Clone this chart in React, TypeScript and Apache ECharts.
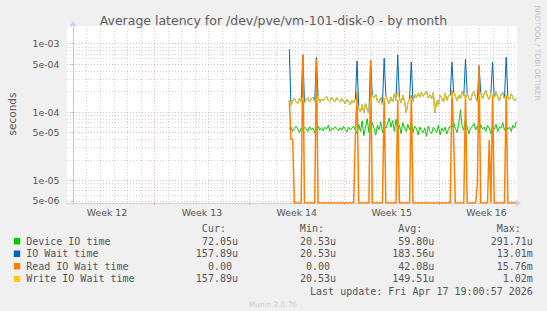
import React, { useEffect, useRef } from "react";
import * as echarts from "echarts";

const TITLE = "Average latency for /dev/pve/vm-101-disk-0 - by month";
const Y_NAME = "seconds";
const weekLabels = ["Week 12", "Week 13", "Week 14", "Week 15", "Week 16"];
const weekLabelPos = [2.5, 9.5, 16.5, 23.5, 30.5];
const weekStarts = [6, 13, 20, 27];
const dayLines = [0, 1, 2, 3, 4, 5, 7, 8, 9, 10, 11, 12, 14, 15, 16, 17, 18, 19, 21, 22, 23, 24, 25, 26, 28, 29, 30, 31, 32];
const yTickValues = [5e-6, 1e-5, 5e-5, 1e-4, 5e-4, 1e-3];
const yTickLabels = ["5e-06", "1e-05", "5e-05", "1e-04", "5e-04", "1e-03"];
const yMinorValues = [6e-6, 7e-6, 8e-6, 9e-6, 2e-5, 3e-5, 4e-5, 6e-5, 7e-5, 8e-5, 9e-5, 2e-4, 3e-4, 4e-4, 6e-4, 7e-4, 8e-4, 9e-4];

const X_MIN = -0.45;
const X_MAX = 32.75;
const Y_MIN = -5.332;
const Y_MAX = -2.741;
const DATA_START = 15.95; // days
const STEP = 0.125; // 3 hours

// values in microseconds
const deviceIO = [
  55, 60, 52, 58, 62, 56, 50, 58, 54, 60,
  57, 52, 61, 55, 58, 50, 56, 62, 54, 59,
  53, 60, 56, 64, 52, 58, 55, 61, 57, 53,
  59, 54, 62, 56, 51, 60, 55, 58, 62, 54,
  48, 66, 52, 74, 45, 60, 80, 50, 56, 70,
  58, 46, 64, 55, 72, 50, 62, 58, 68, 82,
  60, 75, 52, 78, 56, 64, 48, 70, 58, 52,
  66, 55, 72, 50, 62, 58, 46, 60, 54, 50,
  58, 44, 62, 52, 48, 60, 55, 50, 64, 46,
  58, 52, 60, 48, 56, 62, 60, 70, 58, 50,
  66, 108, 62, 54, 80, 60, 48, 58, 62, 68,
  55, 62, 50, 66, 56, 60, 52, 64, 58, 48,
  62, 56, 66, 52, 60, 58, 70, 54, 62, 56,
  60, 52, 64, 58, 72,
];
const ioWait = [
  828, 125, 145, 160, 140, 132, 158, 140, 690, 135,
  152, 162, 140, 155, 165, 142, 633, 170, 138, 155,
  145, 160, 168, 148, 140, 165, 150, 142, 162, 148,
  140, 158, 145, 132, 155, 140, 128, 150, 135, 152,
  560, 112, 100, 128, 98, 135, 108, 96, 576, 175,
  162, 182, 145, 135, 165, 128, 611, 172, 150, 132,
  165, 140, 185, 148, 684, 158, 135, 175, 145, 98,
  135, 155, 540, 140, 182, 162, 190, 165, 195, 170,
  185, 200, 162, 180, 155, 192, 98, 150, 125, 178,
  160, 140, 188, 148, 172, 178, 540, 195, 172, 145,
  178, 155, 198, 172, 597, 185, 160, 145, 182, 198,
  162, 142, 480, 192, 155, 185, 205, 168, 152, 190,
  540, 160, 198, 168, 145, 180, 192, 155, 633, 170,
  150, 185, 162, 145, 158,
];
const readWait = [
  150, 40, 40, 0, 0, 0, 0, 0, 690, 0,
  0, 0, 0, 0, 0, 0, 600, 0, 0, 0,
  0, 0, 0, 0, 0, 0, 0, 0, 0, 0,
  0, 0, 0, 0, 0, 0, 0, 0, 0, 45,
  200, 0, 0, 0, 0, 0, 0, 0, 576, 0,
  0, 0, 0, 0, 0, 0, 160, 0, 0, 0,
  0, 0, 0, 0, 150, 0, 0, 0, 0, 0,
  0, 0, 177, 0, 0, 0, 0, 0, 0, 0,
  0, 0, 0, 0, 0, 0, 0, 0, 0, 0,
  0, 0, 0, 0, 0, 0, 210, 43, 0, 0,
  0, 0, 0, 0, 180, 0, 0, 0, 0, 0,
  0, 9, 476, 0, 0, 0, 0, 0, 39, 0,
  180, 0, 0, 0, 0, 0, 0, 0, 180, 0,
  0, 0, 0, 0, 0,
];
const writeWait = [
  150, 125, 145, 160, 140, 132, 158, 140, 165, 135,
  152, 162, 140, 155, 165, 142, 150, 170, 138, 155,
  145, 160, 168, 148, 140, 165, 150, 142, 162, 148,
  140, 158, 145, 132, 155, 140, 128, 150, 135, 152,
  135, 112, 100, 128, 98, 135, 108, 96, 150, 175,
  162, 182, 145, 135, 165, 128, 148, 172, 150, 132,
  165, 140, 185, 148, 195, 158, 135, 175, 145, 98,
  135, 155, 160, 140, 182, 162, 190, 165, 195, 170,
  185, 200, 162, 180, 155, 192, 98, 150, 125, 178,
  160, 140, 188, 148, 172, 178, 160, 195, 172, 145,
  178, 155, 198, 172, 155, 185, 160, 145, 182, 198,
  162, 142, 170, 192, 155, 185, 205, 168, 152, 190,
  175, 160, 198, 168, 145, 180, 192, 155, 180, 170,
  150, 185, 162, 145, 158,
];

const legendNames = ["Device IO time", "IO Wait time", "Read IO Wait time", "Write IO Wait time"];
const legendColors = ["#00cc00", "#0066b3", "#ff8000", "#ffcc00"];
const legendHeaders = ["Cur:", "Min:", "Avg:", "Max:"];
const curVals = ["72.05u", "157.89u", "0.00", "157.89u"];
const minVals = ["20.53u", "20.53u", "0.00", "20.53u"];
const avgVals = ["59.80u", "183.56u", "42.08u", "149.51u"];
const maxVals = ["291.71u", "13.01m", "15.76m", "1.02m"];
const LAST_UPDATE = "Last update: Fri Apr 17 19:00:57 2026";
const MUNIN = "Munin 2.0.76";
const RRD = "RRDTOOL / TOBI OETIKER";

const toLog = (v: number) => (v > 0 ? Math.log10(v * 1e-6) : Y_MIN);
const toSeries = (arr: number[]) => arr.map((v, i) => [DATA_START + i * STEP, toLog(v)]);

const MONO = "DejaVu Sans Mono";
const SANS = "DejaVu Sans";
const TXT = "#555555";
const AXIS = "#cad1f0";
const MINOR = "rgba(150,150,150,0.42)";
const MAJOR = "rgba(235,90,90,0.45)";

export default function App() {
  const ref = useRef<HTMLDivElement>(null);
  useEffect(() => {
    document.body.style.margin = "0";
    document.body.style.background = "#f0f0f0";
    const chart = echarts.init(ref.current!, null, { renderer: "svg" });

    const gridLines: any[] = [];
    dayLines.forEach((d) => gridLines.push({ xAxis: d, lineStyle: { color: MINOR, type: [1, 2], width: 1 } }));
    yMinorValues.forEach((v) => gridLines.push({ yAxis: Math.log10(v), lineStyle: { color: MINOR, type: [1, 2], width: 1 } }));
    weekStarts.forEach((d) => gridLines.push({ xAxis: d, lineStyle: { color: MAJOR, type: [1, 2], width: 1 } }));
    yTickValues.forEach((v) => gridLines.push({ yAxis: Math.log10(v), lineStyle: { color: MAJOR, type: [1, 2], width: 1 } }));

    const colEnds = [238, 336, 434.4, 532.8];
    const CH = 6.02;
    const cols = [curVals, minVals, avgVals, maxVals];
    const rowY = [241.2, 253.7, 266.3, 278.9];
    const graphics: any[] = [
      { type: "text", style: { text: TITLE, x: 273.4, y: 20.2, textAlign: "center", textVerticalAlign: "middle", align: "center", verticalAlign: "middle", font: `12.5px '${SANS}'`, fill: "#5e5e5e" } },
      { type: "text", x: 11.7, y: 114, rotation: Math.PI / 2, style: { text: Y_NAME, x: 0, y: 0, textAlign: "center", textVerticalAlign: "middle", align: "center", verticalAlign: "middle", font: `10.5px '${SANS}'`, fill: TXT } },
      { type: "text", x: 537, y: 53, rotation: -Math.PI / 2, style: { text: RRD, x: 0, y: 0, textAlign: "center", textVerticalAlign: "middle", align: "center", verticalAlign: "middle", font: `7.4px '${SANS}'`, fill: "#c4c4c4" } },
      { type: "text", style: { text: MUNIN, x: 272.9, y: 304.7, textAlign: "center", textVerticalAlign: "middle", align: "center", verticalAlign: "middle", font: `7.4px '${SANS}'`, fill: "#cccccc" } },
      { type: "text", style: { text: LAST_UPDATE, x: 532.8, y: 291.4, textAlign: "right", textVerticalAlign: "middle", align: "right", verticalAlign: "middle", font: `10px '${MONO}'`, fill: TXT } },
    ];
    legendHeaders.forEach((h, c) => {
      graphics.push({ type: "text", style: { text: h, x: colEnds[c] - 2 * CH, y: 228.6, textAlign: "right", textVerticalAlign: "middle", align: "right", verticalAlign: "middle", font: `10px '${MONO}'`, fill: TXT } });
    });
    legendNames.forEach((name, r) => {
      graphics.push({ type: "rect", shape: { x: 13.8, y: rowY[r] - 3.2, width: 6.4, height: 6.4 }, style: { fill: legendColors[r] } });
      graphics.push({ type: "text", style: { text: name, x: 26.2, y: rowY[r], textAlign: "left", textVerticalAlign: "middle", align: "left", verticalAlign: "middle", font: `10px '${MONO}'`, fill: TXT } });
      cols.forEach((col, c) => {
        const s = col[r];
        const end = /[a-zA-Z]$/.test(s) ? colEnds[c] : colEnds[c] - CH;
        graphics.push({ type: "text", style: { text: s, x: end, y: rowY[r], textAlign: "right", textVerticalAlign: "middle", align: "right", verticalAlign: "middle", font: `10px '${MONO}'`, fill: TXT } });
      });
    });

    const mk = (name: string, arr: number[], color: string, z: number, width = 1) => ({
      name,
      type: "line",
      data: toSeries(arr),
      showSymbol: false,
      symbol: "none",
      clip: true,
      z,
      lineStyle: { color, width },
      itemStyle: { color },
    });

    chart.setOption({
      animation: false,
      backgroundColor: "#f0f0f0",
      grid: { left: 67, right: 30, top: 26, bottom: 108, show: true, backgroundColor: "#ffffff", borderWidth: 0 },
      xAxis: {
        type: "value",
        min: X_MIN,
        max: X_MAX,
        splitLine: { show: false },
        axisLine: { show: true, onZero: false, lineStyle: { color: AXIS, width: 1 }, symbol: ["none", "arrow"], symbolSize: [6, 6], symbolOffset: [0, 4] },
        axisTick: { show: true, customValues: weekStarts, length: 2, lineStyle: { color: MAJOR } },
        axisLabel: {
          customValues: weekLabelPos,
          margin: 4.5,
          fontSize: 9.35,
          fontFamily: SANS,
          color: TXT,
          formatter: (v: number) => {
            const i = weekLabelPos.findIndex((p) => Math.abs(p - v) < 1e-6);
            return i >= 0 ? weekLabels[i] : "";
          },
        },
      },
      yAxis: {
        type: "value",
        min: Y_MIN,
        max: Y_MAX,
        splitLine: { show: false },
        axisLine: { show: true, lineStyle: { color: AXIS, width: 1 }, symbol: ["none", "arrow"], symbolSize: [6, 6], symbolOffset: [0, 5] },
        axisTick: { show: true, customValues: yTickValues.map((v) => Math.log10(v)), length: 2, lineStyle: { color: MAJOR } },
        axisLabel: {
          customValues: yTickValues.map((v) => Math.log10(v)),
          margin: 7.5,
          fontSize: 9.35,
          fontFamily: SANS,
          color: TXT,
          formatter: (v: number) => {
            const i = yTickValues.findIndex((t) => Math.abs(Math.log10(t) - v) < 1e-6);
            return i >= 0 ? yTickLabels[i] : "";
          },
        },
      },
      series: [
        {
          type: "line",
          data: [],
          silent: true,
          markLine: { silent: true, z: 1, symbol: ["none", "none"], label: { show: false }, emphasis: { disabled: true }, animation: false, data: gridLines },
        },
        mk(legendNames[0], deviceIO, legendColors[0], 3),
        mk(legendNames[1], ioWait, legendColors[1], 4),
        mk(legendNames[2], readWait, legendColors[2], 5, 1.5),
        mk(legendNames[3], writeWait, legendColors[3], 6),
      ],
      graphic: { elements: graphics },
    });
    return () => chart.dispose();
  }, []);
  return <div ref={ref} style={{ width: 547, height: 311 }} />;
}
